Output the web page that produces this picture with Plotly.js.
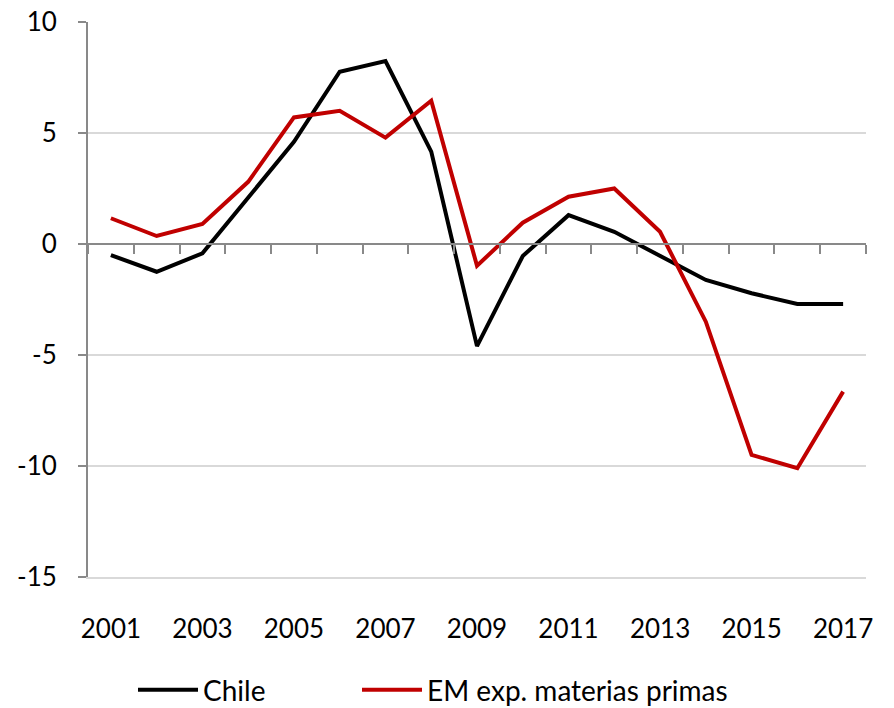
<!DOCTYPE html>
<html>
<head>
<meta charset="utf-8">
<script src="https://cdn.plot.ly/plotly-3.0.1.min.js"></script>
<style>html,body{margin:0;padding:0;background:#fff;}#chart{width:894px;height:708px;}</style>
</head>
<body>
<div id="chart"></div>
<script>
const years = [2001,2002,2003,2004,2005,2006,2007,2008,2009,2010,2011,2012,2013,2014,2015,2016,2017];
const chile = [-0.5,-1.25,-0.42,2.1,4.6,7.76,8.24,4.16,-4.6,-0.54,1.3,0.55,-0.55,-1.62,-2.22,-2.7,-2.7];
const emCommodity = [1.16,0.36,0.9,2.8,5.7,6.0,4.79,6.45,-0.98,0.96,2.13,2.5,0.55,-3.5,-9.5,-10.1,-6.65];
const seriesNames = ['Chile','EM exp. materias primas'];
const xTickLabels = ['2001','2003','2005','2007','2009','2011','2013','2015','2017'];
const xTickVals = xTickLabels.map(Number);
const yTickLabels = ['10','5','0','-5','-10','-15'];
const yTickVals = yTickLabels.map(Number);
const boundaries = [years[0]-0.5].concat(years.map(y => y+0.5));

const font = {family:'Lato, "Open Sans", sans-serif', size:26, color:'#000'};
const legFont = {family:'Lato, "Open Sans", sans-serif', size:28, color:'#000'};
const axisGray = '#898989';

const traces = [
  {x: years, y: chile, name: seriesNames[0], type:'scatter', mode:'lines',
   line:{color:'#000000', width:4}, xaxis:'x', yaxis:'y', legend:'legend'},
  {x: years, y: emCommodity, name: seriesNames[1], type:'scatter', mode:'lines',
   line:{color:'#c00000', width:4}, xaxis:'x2', yaxis:'y', legend:'legend2'}
];

const legBase = {orientation:'h', xref:'container', yref:'container', xanchor:'left', yanchor:'middle',
                 y: 1 - 690/708, font: legFont, itemwidth: 60, bgcolor:'rgba(0,0,0,0)'};

const layout = {
  width: 894, height: 708,
  margin: {l:88, r:28, t:22, b:131},
  paper_bgcolor:'#fff', plot_bgcolor:'#fff',
  font: font,
  showlegend: true,
  legend: Object.assign({}, legBase, {x: 133/894}),
  legend2: Object.assign({}, legBase, {x: 357/894}),
  xaxis: {range:[years[0]-0.5, years[years.length-1]+0.5], tickvals: xTickVals, ticktext: xTickLabels,
          showgrid:false, zeroline:false, showline:true, linecolor:'#d9d9d9', linewidth:1.5,
          ticks:'', ticklabelstandoff: 28, tickfont: font, automargin:false},
  xaxis2: {range:[years[0]-0.5, years[years.length-1]+0.5], overlaying:'x', anchor:'free', position:0.6,
           side:'bottom', tickvals: boundaries, showticklabels:false, ticks:'outside', ticklen:9,
           tickwidth:2, tickcolor:axisGray, showline:true, linecolor:axisGray, linewidth:2,
           showgrid:false, zeroline:false},
  yaxis: {range:[-15,10], tickvals: yTickVals, ticktext: yTickLabels, showgrid:true, gridcolor:'#d9d9d9', gridwidth:1.5,
          zeroline:false, showline:true, linecolor:axisGray, linewidth:2,
          ticks:'outside', ticklen:8, tickwidth:2, tickcolor:axisGray, ticklabelstandoff: 16,
          tickfont: font, automargin:false}
};

Plotly.newPlot('chart', traces, layout, {displayModeBar:false, staticPlot:true});
</script>
</body>
</html>
